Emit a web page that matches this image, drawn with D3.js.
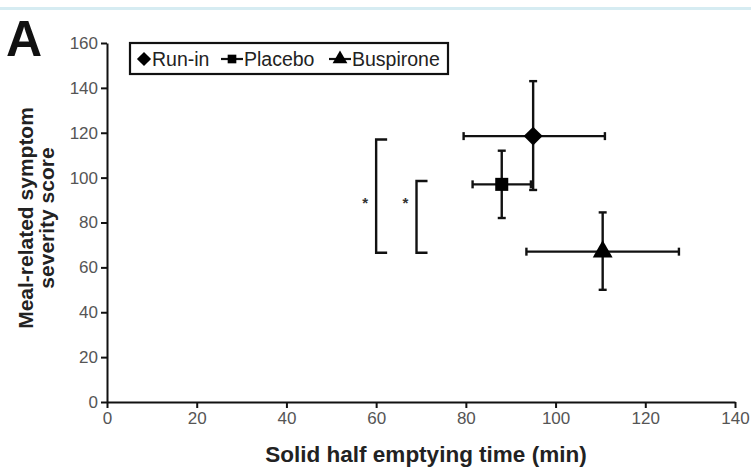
<!DOCTYPE html>
<html>
<head>
<meta charset="utf-8">
<script src="https://cdn.jsdelivr.net/npm/d3@7"></script>
<style>
  body { margin: 0; background: #fff; }
  svg { display: block; font-family: "Liberation Sans", Arial, sans-serif; }
</style>
</head>
<body>
<svg id="chart" width="751" height="468"></svg>
<script>
// values
var groups = ["Run-in", "Placebo", "Buspirone"];
var emptyTime = [95, 88, 110.5];
var emptyLo = [79.5, 81.5, 93.5];
var emptyHi = [111, 94.5, 127.5];
var symptom = [118.5, 97, 67];
var symptomLo = [94.5, 82, 50];
var symptomHi = [143, 112, 84.5];

var xTicks = [0, 20, 40, 60, 80, 100, 120, 140];
var yTicks = [0, 20, 40, 60, 80, 100, 120, 140, 160];

// significance brackets
var bracketX = [60, 69];
var bracketTop = [117, 98.5];
var bracketBottom = [66.5, 66.5];
var starY = [90.5, 90.5];

var W = 751, H = 468;
var margin = {top: 43, right: 16, bottom: 66, left: 107};

var svg = d3.select("#chart");

// thin blue line at the top of the scan
svg.append("rect").attr("x", 0).attr("y", 7).attr("width", W).attr("height", 3)
  .attr("fill", "#d6ecf2");

var x = d3.scaleLinear().domain([0, 140]).range([margin.left, W - margin.right]);
var y = d3.scaleLinear().domain([0, 160]).range([H - margin.bottom, margin.top]);

// marker shapes: diamond is a square turned 45 degrees
function marker(i, s) {
  if (i == 2) return d3.symbol().type(d3.symbolTriangle).size(s)();
  return d3.symbol().type(d3.symbolSquare).size(s)();
}
var rot = [45, 0, 0];

var xAxis = svg.append("g")
  .attr("transform", "translate(0," + y(0) + ")")
  .call(d3.axisBottom(x).tickValues(xTicks).tickSize(6).tickSizeOuter(0).tickPadding(4));
var yAxis = svg.append("g")
  .attr("transform", "translate(" + x(0) + ",0)")
  .call(d3.axisLeft(y).tickValues(yTicks).tickSize(6).tickSizeOuter(0).tickPadding(3));

[xAxis, yAxis].forEach(function(a){
  a.selectAll("path, line").attr("stroke", "#111").attr("stroke-width", 2);
  a.selectAll("text").attr("font-size", 17).attr("fill", "#555")
    .attr("font-family", "'Liberation Sans', Arial, sans-serif");
});

// axis titles
svg.append("text")
  .attr("x", 426).attr("y", 462)
  .attr("text-anchor", "middle").attr("font-size", 22.5).attr("font-weight", "bold")
  .attr("fill", "#222")
  .text("Solid half emptying time (min)");

var yt = svg.append("text")
  .attr("transform", "translate(33,218) rotate(-90)")
  .attr("text-anchor", "middle").attr("font-size", 21).attr("font-weight", "bold")
  .attr("fill", "#222");
yt.append("tspan").attr("x", 0).attr("dy", 0).text("Meal-related symptom");
yt.append("tspan").attr("x", 0).attr("dy", 21).text("severity score");

// panel letter
svg.append("text").attr("x", 6).attr("y", 56)
  .attr("font-size", 50).attr("font-weight", "bold").attr("fill", "#111")
  .text("A");

// error bars
var cap = 4;
var g = svg.append("g").attr("stroke", "#111").attr("stroke-width", 2.4);
groups.forEach(function(name, i){
  var cx = x(emptyTime[i]), cy = y(symptom[i]);
  g.append("line").attr("x1", x(emptyLo[i])).attr("x2", x(emptyHi[i])).attr("y1", cy).attr("y2", cy);
  g.append("line").attr("x1", x(emptyLo[i])).attr("x2", x(emptyLo[i])).attr("y1", cy - cap).attr("y2", cy + cap);
  g.append("line").attr("x1", x(emptyHi[i])).attr("x2", x(emptyHi[i])).attr("y1", cy - cap).attr("y2", cy + cap);
  g.append("line").attr("x1", cx).attr("x2", cx).attr("y1", y(symptomLo[i])).attr("y2", y(symptomHi[i]));
  g.append("line").attr("x1", cx - cap).attr("x2", cx + cap).attr("y1", y(symptomLo[i])).attr("y2", y(symptomLo[i]));
  g.append("line").attr("x1", cx - cap).attr("x2", cx + cap).attr("y1", y(symptomHi[i])).attr("y2", y(symptomHi[i]));
});

// markers
var sizes = [180, 170, 170];
svg.append("g").selectAll("path").data(groups).join("path")
  .attr("transform", function(d, i){
    return "translate(" + x(emptyTime[i]) + "," + y(symptom[i]) + ") rotate(" + rot[i] + ")";
  })
  .attr("d", function(d, i){ return marker(i, sizes[i]); })
  .attr("fill", "#000");

// brackets with stars
var bg = svg.append("g");
bracketX.forEach(function(bx, i){
  var px = x(bx), arm = 11;
  bg.append("path")
    .attr("d", "M" + (px + arm) + "," + y(bracketTop[i]) + "H" + px + "V" + y(bracketBottom[i]) + "H" + (px + arm))
    .attr("fill", "none").attr("stroke", "#111").attr("stroke-width", 2.4);
  bg.append("text").attr("x", px - 11).attr("y", y(starY[i]) + 9)
    .attr("text-anchor", "middle").attr("font-size", 15).attr("font-weight", "bold")
    .attr("fill", "#333").text("*");
});

// legend
var lg = svg.append("g");
lg.append("rect").attr("x", 130).attr("y", 43).attr("width", 318).attr("height", 31)
  .attr("fill", "#fff").attr("stroke", "#111").attr("stroke-width", 2.2);
var legX = [144, 232, 340];
var legLine = [false, true, true];
var legSize = [100, 75, 95];
groups.forEach(function(name, i){
  var lx = legX[i], ly = 59;
  if (legLine[i]) {
    lg.append("line").attr("x1", lx - 11).attr("x2", lx + 11).attr("y1", ly).attr("y2", ly)
      .attr("stroke", "#111").attr("stroke-width", 2.2);
  }
  lg.append("path").attr("transform", "translate(" + lx + "," + ly + ") rotate(" + rot[i] + ")")
    .attr("d", marker(i, legSize[i]))
    .attr("fill", "#000");
  lg.append("text").attr("x", lx + (i == 0 ? 8 : 12)).attr("y", ly + 7)
    .attr("font-size", 19.5).attr("fill", "#222").text(name);
});
</script>
</body>
</html>
